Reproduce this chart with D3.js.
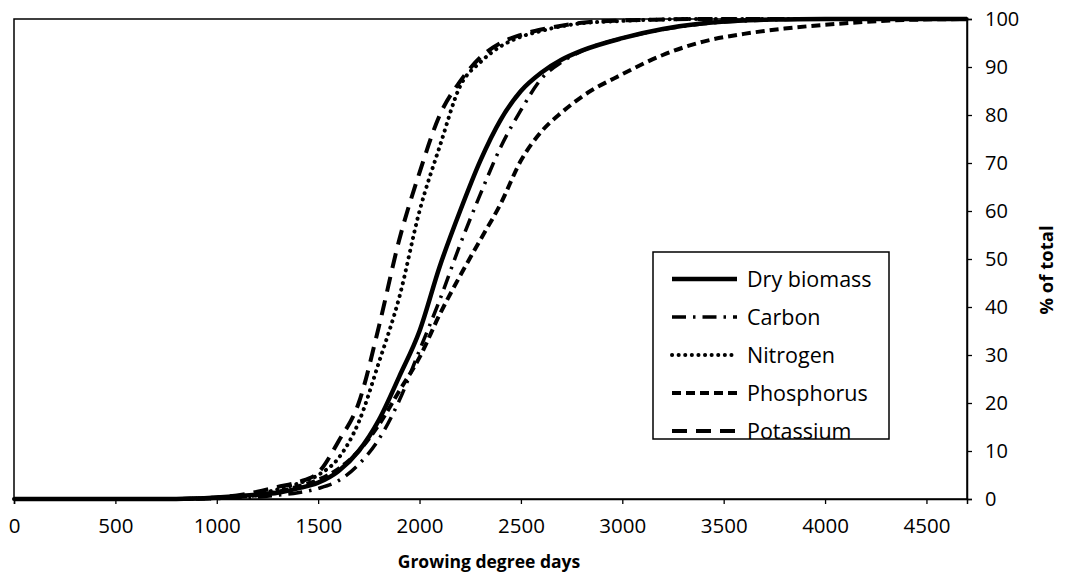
<!DOCTYPE html>
<html><head><meta charset="utf-8">
<script src="https://cdn.jsdelivr.net/npm/d3@7"></script>
<style>body{margin:0;background:#fff}svg{display:block}text{font-family:"Open Sans",sans-serif;fill:#000}</style>
</head><body><svg id="c" width="1065" height="576"></svg>
<script>
const gdd = [0,800,1000,1200,1300,1400,1500,1600,1700,1800,1900,2000,2100,2200,2300,2400,2500,2600,2700,2800,3000,3200,3400,3600,3800,4000,4200,4400,4700];
const dryBiomass = [0,0,0.3,0.9,1.3,2.2,3.4,5.8,10,16.5,25.5,35,48.5,60,70.5,79,85,88.8,91.5,93.4,96,97.9,99.1,99.7,99.9,100,100,100,100];
const carbon     = [0,0,0.1,0.4,0.8,1.3,2.2,3.8,7.2,12.5,20.5,31,41.5,53,63.5,73.3,81,87.5,91,93.3,96,97.8,99,99.6,99.9,100,100,100,100];
const nitrogen   = [0,0,0.3,1,2,3.2,5,8.5,16,28.5,42,60,73.5,86,91,94.3,96.3,97.5,98.5,99.1,99.6,99.9,100,100,100,100,100,100,100];
const phosphorus = [0,0,0.2,0.8,1.5,2.6,4,6.3,10,15.5,22.5,29.5,38.5,46.5,54,61.5,70.5,76.5,80.5,83.8,88.5,92.5,95.3,96.9,98,98.8,99.4,99.8,100];
const potassium  = [0,0,0.3,1.5,2.5,3.5,5.5,12,20,36,54,68,80,87,92,95,96.7,97.8,98.6,99.2,99.7,99.9,100,100,100,100,100,100,100];
const seriesNames = ["Dry biomass","Carbon","Nitrogen","Phosphorus","Potassium"];
const seriesValues = [dryBiomass, carbon, nitrogen, phosphorus, potassium];
const xTicks = [0,500,1000,1500,2000,2500,3000,3500,4000,4500];
const yTicks = [0,10,20,30,40,50,60,70,80,90,100];

const styles = [
  {w:4.5, dash:null, cap:"butt"},
  {w:3.5, dash:"14,7,2.5,7", cap:"butt"},
  {w:4, dash:"0.1,6.5", cap:"round"},
  {w:4, dash:"9,5", cap:"butt"},
  {w:4, dash:"15,9", cap:"butt"}
];

const svg = d3.select("#c");
const L=14, R=967, T=19, B=499;
const x = d3.scaleLinear().domain([0,4700]).range([L,R]);
const y = d3.scaleLinear().domain([0,100]).range([B,T]);

svg.append("rect").attr("x",L).attr("y",T).attr("width",R-L).attr("height",B-T)
  .attr("fill","none").attr("stroke","#000").attr("stroke-width",1.5);

const line = d3.line().x((d,i)=>x(gdd[i])).y(d=>y(d)).curve(d3.curveMonotoneX);
seriesValues.forEach((vals,k)=>{
  const s=styles[k];
  const p=svg.append("path").datum(vals).attr("d",line).attr("fill","none")
    .attr("stroke","#000").attr("stroke-width",s.w).attr("stroke-linecap",s.cap);
  if(s.dash) p.attr("stroke-dasharray",s.dash);
});

const xa = svg.append("g").attr("transform",`translate(0,${B})`)
  .call(d3.axisBottom(x).tickValues(xTicks).tickSize(5).tickPadding(14).tickFormat(d3.format("d")));
xa.select(".domain").attr("stroke-width",1.5);
xa.selectAll("line").attr("stroke-width",1.3);
xa.selectAll("text").style("font-size","20.5px").style("font-family","'Open Sans',sans-serif");

const ya = svg.append("g").attr("transform",`translate(${R},0)`)
  .call(d3.axisRight(y).tickValues(yTicks).tickSize(5).tickPadding(13));
ya.select(".domain").attr("stroke-width",1.5);
ya.selectAll("line").attr("stroke-width",1.3);
ya.selectAll("text").style("font-size","20px").style("font-family","'Open Sans',sans-serif");

svg.append("text").attr("x",489).attr("y",568).attr("text-anchor","middle")
  .style("font-size","17.5px").style("font-weight","bold").text("Growing degree days");
svg.append("text").attr("transform","translate(1053,270) rotate(-90)").attr("text-anchor","middle")
  .style("font-size","18.5px").style("font-weight","bold").text("% of total");

const lg = svg.append("g");
lg.append("rect").attr("x",653).attr("y",252).attr("width",236).attr("height",187)
  .attr("fill","#fff").attr("stroke","#000").attr("stroke-width",1.5);
seriesNames.forEach((n,k)=>{
  const yy = 279 + k*38;
  const s=styles[k];
  const p=lg.append("line").attr("x1",672).attr("x2",737).attr("y1",yy).attr("y2",yy)
    .attr("stroke","#000").attr("stroke-width",s.w).attr("stroke-linecap",s.cap);
  if(s.dash) p.attr("stroke-dasharray",s.dash);
  lg.append("text").attr("x",747).attr("y",yy).attr("dy","0.35em").style("font-size","21.5px").text(n);
});
</script></body></html>
